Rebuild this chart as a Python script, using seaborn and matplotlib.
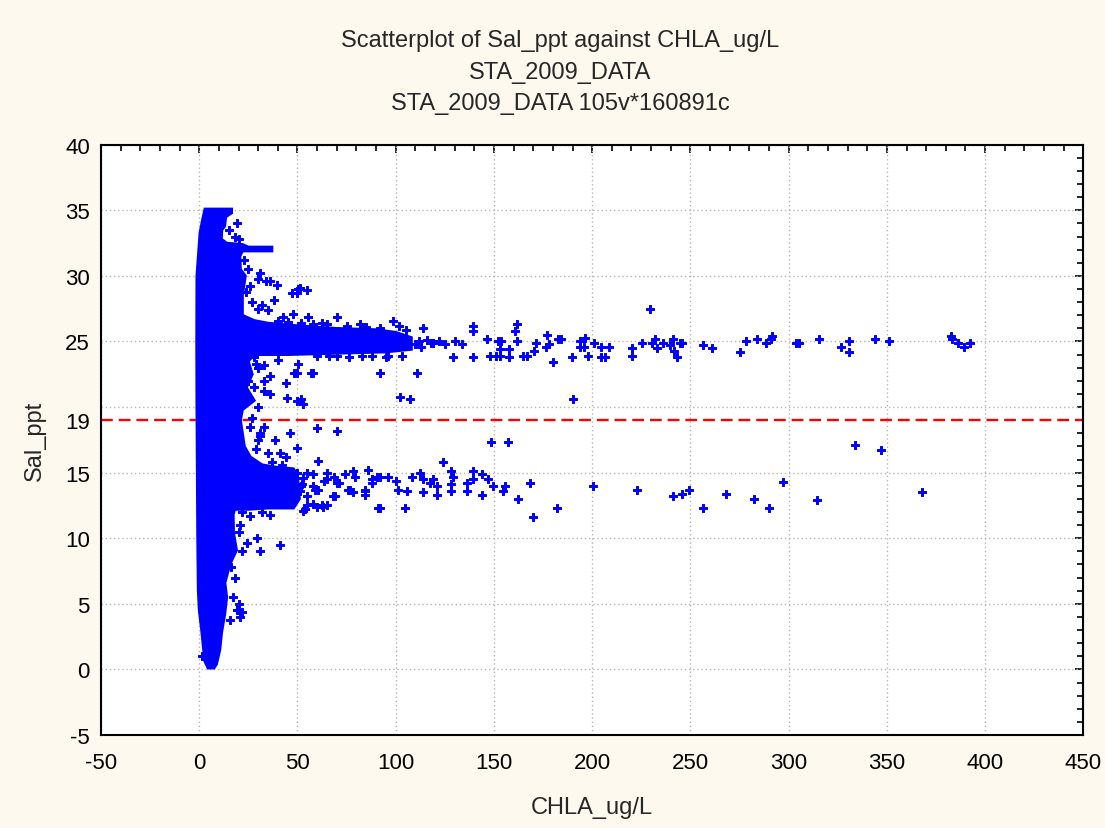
import numpy as np
import pandas as pd
import matplotlib
matplotlib.use('Agg')
import matplotlib.pyplot as plt
import seaborn as sns
from matplotlib.ticker import MultipleLocator

# dense core of the cloud, traced as an outline (CHLA_ug/L, Sal_ppt)
core_x = [4.5, 2.9, 2.0, 1.2, 0.0, -0.5, -0.8, -1.0, -1.2, -1.3, -1.2, 0.0, 0.4, 1.7, 2.9,
          16.5, 16.5, 13.5, 13.0, 11.5, 11.3, 14.0, 22.0, 25.0, 37.0, 37.0, 22.0, 20.7, 21.0,
          23.5, 23.0, 22.0, 22.0, 22.0, 28.0, 35.0, 50.0, 70.0, 90.0, 100.0, 108.0, 108.0,
          95.0, 70.0, 45.0, 28.0, 25.0, 27.0, 24.0, 28.0, 22.0, 21.0, 22.0, 23.0, 26.0, 32.0,
          40.0, 48.0, 50.0, 51.0, 48.0, 35.0, 25.0, 18.0, 17.3, 17.5, 19.0, 15.6, 13.1, 14.0, 13.0,
          11.4, 10.5, 8.8, 7.5]
core_y = [0.1, 0.6, 1.8, 3.0, 4.5, 6.0, 10.0, 15.0, 20.0, 25.0, 30.0, 32.5, 33.3, 34.3, 35.1,
          35.1, 34.8, 34.5, 33.8, 33.5, 32.8, 32.5, 32.4, 32.2, 32.2, 31.9, 31.9, 31.5, 30.5,
          30.0, 29.5, 28.5, 27.5, 27.0, 26.6, 26.4, 26.2, 26.0, 25.9, 25.7, 25.3, 24.4,
          24.2, 24.1, 24.0, 24.0, 23.5, 22.5, 21.5, 20.5, 19.8, 19.0, 18.0, 17.0, 16.2, 15.6,
          15.4, 15.3, 14.8, 13.0, 12.3, 12.3, 12.2, 12.2, 11.8, 10.4, 9.1, 8.0, 6.6, 5.5, 4.2,
          2.8, 1.5, 0.4, 0.1]

# single readings outside the dense core
chla_upper = [54.6, 47, 49.6, 50.5, 51.3, 39.5, 36, 30, 55.4, 42.7, 47.8, 55.5, 69.9, 62.3, 81.8,
              98.7, 101.5, 114, 139.4, 139.4, 161.5, 160.6, 229.4,
              112, 118, 122, 125, 130, 134, 146.3, 151.9, 153.6, 161.9, 171.3, 176.8, 178,
              182.6, 184, 193.7, 196.3, 201, 204.4, 208.6, 220.4, 225.4, 230.2, 231.9, 232.8,
              236.1, 239.5, 240.9, 241.6, 243.3, 244.6, 245.5, 256.5, 261.1, 275.2, 278.1,
              283.7, 288.3, 290.8, 291.6, 304, 305.2, 315.4, 326.4, 330.8, 330.8, 344.2, 351.2,
              382.4, 383.4, 386, 389.3, 392.2,
              60, 66, 70, 76, 83, 88, 95, 103, 129.3, 139.4, 148, 151, 153, 157.5, 164.9, 166.6,
              180.2, 189.5, 198, 204.7, 206.4, 220.4,
              153.3, 157.5, 170.5, 176.4, 193.7, 196,
              57.1, 91.8, 110.7, 50.4, 58, 48.4, 49.7,
              51.7, 102, 107.1, 190.1, 44.7, 49.6, 53, 36, 33, 30,
              40, 45, 52, 58, 65, 75, 85, 92, 105, 110, 113, 96, 116, 119,
              25, 28, 30, 27, 26, 31, 33, 28, 30, 27, 24, 26, 31, 34, 18, 20, 23, 25, 19, 15,
              32, 35, 38, 29, 33, 36, 40, 44]
sal_upper = [28.9, 28.7, 28.7, 29.0, 29.1, 29.3, 29.6, 29.8, 26.9, 26.9, 27.1, 26.9, 26.9, 26.4, 26.3,
             26.6, 26.2, 26.0, 26.2, 25.8, 26.3, 25.8, 27.5,
             25.0, 24.9, 25.0, 24.8, 25.0, 24.8, 25.2, 25.0, 25.0, 25.0, 24.9, 25.5, 24.8,
             25.2, 25.2, 25.0, 25.3, 24.9, 24.6, 24.6, 24.5, 24.9, 24.9, 25.2, 24.5,
             24.9, 24.7, 25.2, 24.3, 23.8, 24.9, 24.9, 24.7, 24.5, 24.2, 25.0,
             25.2, 24.9, 25.2, 25.4, 24.9, 24.9, 25.2, 24.6, 25.0, 24.2, 25.2, 25.0,
             25.4, 25.2, 24.9, 24.6, 24.9,
             23.9, 23.9, 23.9, 23.8, 23.9, 23.9, 23.8, 23.9, 23.8, 23.8, 23.9, 23.9, 23.9, 23.8, 23.9, 23.9,
             23.4, 23.8, 23.9, 23.8, 23.8, 23.9,
             24.4, 24.4, 24.3, 24.6, 24.6, 24.6,
             22.6, 22.6, 22.6, 23.3, 22.6, 22.6, 22.6,
             20.6, 20.8, 20.6, 20.6, 20.7, 20.5, 20.2, 21.0, 22.0, 23.0,
             26.6, 26.5, 26.4, 26.3, 26.3, 26.2, 26.1, 26.0, 25.9, 24.8, 24.6, 23.9, 25.1, 24.9,
             22.0, 21.5, 20.0, 19.2, 18.5, 18.0, 23.2, 23.8, 27.5, 28.0, 28.8, 29.2, 30.2, 29.6,
             33.0, 32.8, 31.2, 30.5, 34.0, 33.5,
             27.8, 27.4, 28.2, 23.3, 21.2, 22.4, 23.6, 21.8]

chla_lower = [59.7, 69.9, 148.7, 157.2, 334, 346.8, 46.2, 49.6, 38.5, 41, 44.4, 30, 33,
              60.5, 54.6, 49.6, 54.7, 58, 64.8, 64.8, 69.9, 74.1, 78.4, 79.2, 86, 87.7, 84.3,
              90.3, 92, 76.7, 69.1, 63.1, 59.7, 54.7, 52.9, 51.2, 52.1, 58.9,
              92, 96.2, 87.7, 100.4, 101.3, 84.3, 84.3, 105.5, 108.1, 112.3, 114, 117.4, 119.1,
              120.8, 114, 120.8, 124.2, 128.4, 129.3, 128.4, 128.4, 139.4, 139.4, 136.1, 136.1,
              143.7, 147.1, 149.6, 155.6, 154.7, 143.7,
              162.3, 168.3, 170, 181.9, 200.5, 222.6, 240.9, 245.5, 249.4, 256.5, 267.9, 282.4,
              290.1, 297.2, 314.2, 368.1,
              53.8, 58, 62.3, 64.8, 91.1, 104.7, 68.2, 75.8, 78.4, 63.5, 68.6, 71.2, 51.8, 57.8, 60.3,
              25.8, 29.2, 41.1, 30.9, 24.1, 21.6, 20.8, 15.6, 1.2, 32, 36,
              29, 35, 31, 37, 42, 20, 21, 22, 18, 17, 20, 19, 16, 22, 53, 55]
sal_lower = [18.4, 18.2, 17.3, 17.3, 17.1, 16.7, 18.0, 16.9, 17.5, 16.5, 16.2, 17.5, 18.5,
             15.9, 15.0, 15.0, 15.0, 14.9, 15.0, 14.5, 14.2, 14.9, 15.1, 14.7, 15.2, 14.5, 13.6,
             14.7, 12.3, 13.7, 13.2, 12.4, 12.4, 12.5, 12.1, 13.6, 14.1, 13.7,
             14.7, 14.7, 14.2, 14.4, 13.7, 13.7, 13.3, 13.6, 14.7, 15.0, 14.5, 14.2, 14.5,
             14.0, 13.5, 13.3, 15.8, 15.1, 14.7, 14.1, 13.6, 15.1, 14.5, 14.2, 13.6,
             14.9, 14.5, 14.0, 14.0, 13.6, 13.3,
             13.0, 14.2, 11.6, 12.3, 14.0, 13.7, 13.2, 13.4, 13.7, 12.3, 13.4, 13.0,
             12.3, 14.3, 12.9, 13.5,
             12.2, 12.6, 12.5, 12.5, 12.3, 12.3, 13.2, 13.7, 13.5, 14.4, 14.7, 14.2, 14.0, 14.0, 13.7,
             11.7, 10.0, 9.5, 9.0, 9.6, 4.4, 4.0, 3.8, 1.0, 12.0, 11.8,
             16.8, 16.5, 17.8, 15.8, 15.6, 10.5, 11.0, 9.0, 7.0, 5.5, 5.0, 4.5, 7.8, 12.0, 14.6, 13.2]

ref_line = 19
ytick_vals = [-5, 0, 5, 10, 15, 19, 25, 30, 35, 40]

df = pd.DataFrame({'CHLA_ug/L': chla_upper + chla_lower,
                   'Sal_ppt': sal_upper + sal_lower})

sns.set_style('white')
plt.rcParams['font.family'] = ['Liberation Sans', 'DejaVu Sans']
plt.rcParams['axes.unicode_minus'] = False

fig = plt.figure(figsize=(11.05, 8.29), dpi=100)
fig.patch.set_facecolor('#fdf9ee')
ax = fig.add_axes([0.0914, 0.1122, 0.889, 0.712])
ax.set_facecolor('white')

# dotted grid every 5 / 50 units
for gy in range(-5, 41, 5):
    ax.axhline(gy, color='#b4b4b4', lw=1, ls=(0, (1, 2)), zorder=1)
for gx in range(-50, 451, 50):
    ax.axvline(gx, color='#b4b4b4', lw=1, ls=(0, (1, 2)), zorder=1)

ax.axhline(ref_line, color='red', lw=1.7, ls=(0, (5, 2.5)), zorder=2)

ax.fill(core_x, core_y, color='blue', lw=2, ec='blue', zorder=3)
sns.scatterplot(data=df, x='CHLA_ug/L', y='Sal_ppt', marker='P', s=34,
                color='blue', edgecolor='blue', linewidth=0.7, ax=ax, zorder=4)

ax.set_xlim(-50, 450)
ax.set_ylim(-5, 40)
ax.set_xticks(range(-50, 451, 50))
ax.set_yticks(ytick_vals)
ax.set_yticklabels([str(v) for v in ytick_vals])
ax.xaxis.set_minor_locator(MultipleLocator(10))
ax.yaxis.set_minor_locator(MultipleLocator(1))
ax.tick_params(which='both', direction='in', top=True, right=True, labelsize=16, colors='black')
ax.tick_params(which='major', length=6, width=1.2)
ax.tick_params(which='minor', length=4, width=1.2)
ax.tick_params(axis='x', pad=12)
ax.tick_params(axis='y', pad=8)
for sp in ax.spines.values():
    sp.set_color('black')
    sp.set_linewidth(1.5)

ax.set_xlabel('CHLA_ug/L', fontsize=17, labelpad=17)
ax.set_ylabel('Sal_ppt', fontsize=17, labelpad=14)

fig.text(0.507, 0.9500, 'Scatterplot of Sal_ppt against CHLA_ug/L', ha='center', va='center', fontsize=17)
fig.text(0.507, 0.9120, 'STA_2009_DATA', ha='center', va='center', fontsize=17)
fig.text(0.507, 0.8745, 'STA_2009_DATA 105v*160891c', ha='center', va='center', fontsize=17)

fig.savefig('out.png', dpi=100, facecolor=fig.get_facecolor())
